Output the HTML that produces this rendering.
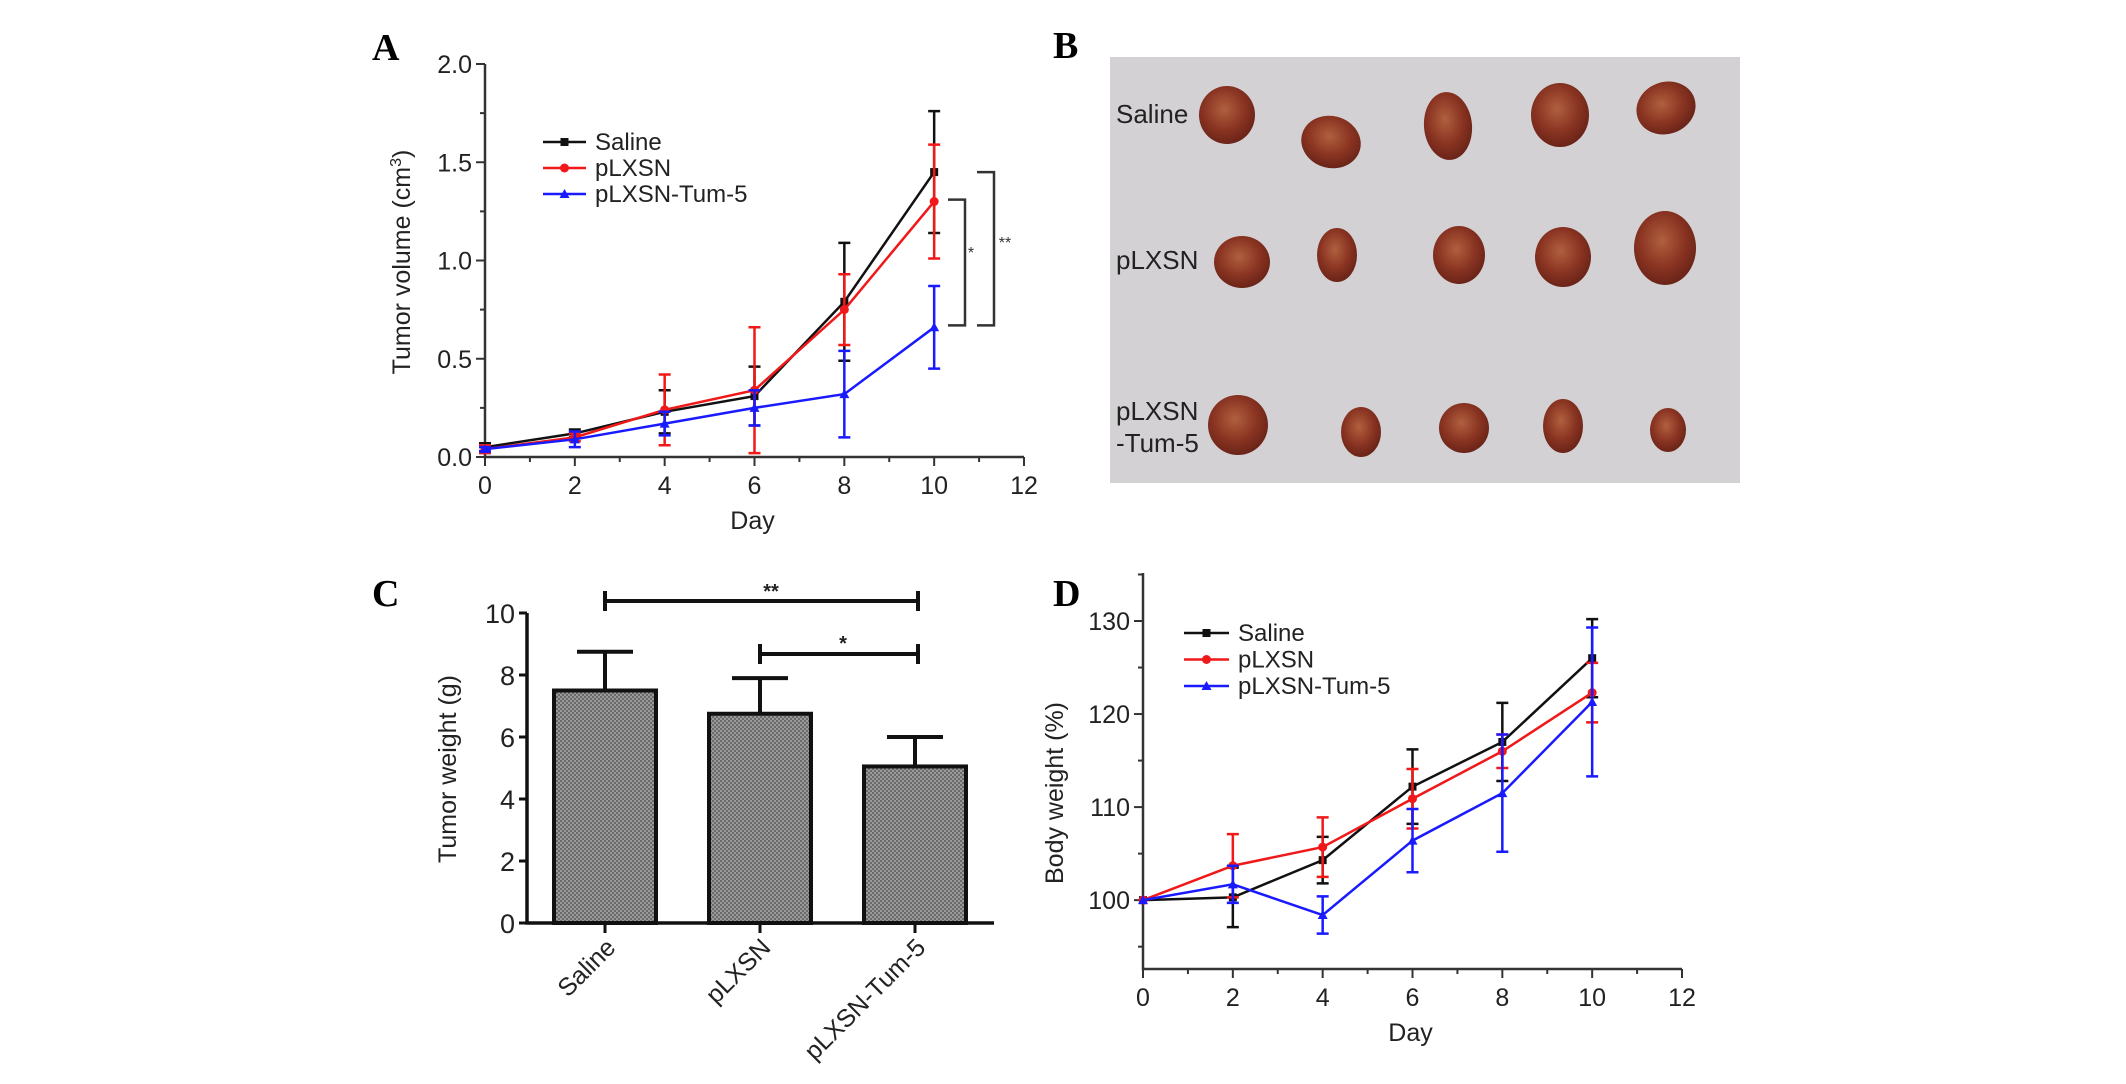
<!DOCTYPE html>
<html><head><meta charset="utf-8">
<style>
html,body{margin:0;padding:0;background:#fff;}
svg{display:block;font-family:"Liberation Sans",Arial,sans-serif;}
.pl{font-family:"Liberation Serif",serif;font-weight:bold;font-size:38px;}
</style></head>
<body>
<svg id="fig" width="2126" height="1084" viewBox="0 0 2126 1084" xmlns="http://www.w3.org/2000/svg">
<defs>
<pattern id="hatch" width="4" height="4" patternUnits="userSpaceOnUse">
<rect width="4" height="4" fill="#9a9a9a"/>
<rect width="2" height="2" fill="#6a6a6a"/><rect x="2" y="2" width="2" height="2" fill="#6a6a6a"/>
</pattern>
<radialGradient id="tum" cx="45%" cy="40%" r="60%">
<stop offset="0" stop-color="#b0603f"/><stop offset="0.6" stop-color="#8a3422"/><stop offset="1" stop-color="#6a2418"/>
</radialGradient>
</defs>
<text class="pl" x="372" y="60">A</text>
<text class="pl" x="1053" y="58">B</text>
<text class="pl" x="372" y="606">C</text>
<text class="pl" x="1053" y="606">D</text>
<g id="gA"></g>
<g id="gB"></g>
<g id="gC"></g>
<g id="gD"></g>
</svg>
<script>
const days = [0, 2, 4, 6, 8, 10];
const aSaline = [0.05, 0.12, 0.23, 0.31, 0.79, 1.45];
const aSalineErr = [0.02, 0.02, 0.11, 0.15, 0.30, 0.31];
const aPLXSN = [0.04, 0.10, 0.24, 0.34, 0.75, 1.30];
const aPLXSNErr = [0.02, 0.02, 0.18, 0.32, 0.18, 0.29];
const aTum = [0.04, 0.09, 0.17, 0.25, 0.32, 0.66];
const aTumErr = [0.01, 0.04, 0.06, 0.09, 0.22, 0.21];
const aYTicks = ["0.0", "0.5", "1.0", "1.5", "2.0"];
const xTicks = ["0", "2", "4", "6", "8", "10", "12"];
const cCategories = ["Saline", "pLXSN", "pLXSN-Tum-5"];
const cValues = [7.5, 6.75, 5.05];
const cErr = [1.25, 1.15, 0.95];
const cYTicks = ["0", "2", "4", "6", "8", "10"];
const dSaline = [100, 100.3, 104.3, 112.2, 117, 126];
const dSalineErr = [0, 3.2, 2.5, 4, 4.2, 4.2];
const dPLXSN = [100, 103.7, 105.7, 110.9, 116, 122.3];
const dPLXSNErr = [0, 3.4, 3.2, 3.2, 1.8, 3.2];
const dTum = [100, 101.7, 98.4, 106.4, 111.5, 121.3];
const dTumErr = [0, 2, 2, 3.4, 6.3, 8];
const dYTicks = ["100", "110", "120", "130"];
const seriesNames = ["Saline", "pLXSN", "pLXSN-Tum-5"];

const NS = "http://www.w3.org/2000/svg";
function mk(parent, tag, attrs, text) {
  const e = document.createElementNS(NS, tag);
  for (const k in attrs) e.setAttribute(k, attrs[k]);
  if (text !== undefined) e.textContent = text;
  parent.appendChild(e);
  return e;
}
const colors = ["#111", "#f01818", "#1a1aff"];

function marker(g, kind, x, y, c) {
  let m;
  if (kind === 0) m = mk(g, "rect", {x: x-4, y: y-4, width: 8, height: 8, fill: c});
  else if (kind === 1) m = mk(g, "circle", {cx: x, cy: y, r: 4.5, fill: c});
  else m = mk(g, "path", {d: `M${x},${y-5}L${x+5},${y+4}L${x-5},${y+4}Z`, fill: c});
  
  
}

function lineChart(g, cfg) {
  const {x0, x1, y0, y1, vmin, vmax, series, errs, yTicks, yTickVals, legend, title, minorY} = cfg;
  const sx = d => x0 + (d / 12) * (x1 - x0);
  const sy = v => y0 - (v - vmin) / (vmax - vmin) * (y0 - y1);
  const ax = mk(g, "path", {d: `M${x0},${cfg.top}V${y0}H${x1}`, stroke: "#333", "stroke-width": 2.5, fill: "none"});
  
  
  for (let i = 0; i <= 12; i++) {
    const x = sx(i);
    mk(g, "line", {x1: x, x2: x, y1: y0, y2: y0 + (i % 2 === 0 ? 9 : 5), stroke: "#333", "stroke-width": 2});
  }
  xTicks.forEach((t, i) => {
    const tl = mk(g, "text", {x: sx(i * 2), y: y0 + 37, "text-anchor": "middle", "font-size": 25, fill: "#222"}, t);
    
    
  });
  yTicks.forEach((t, i) => {
    const y = sy(yTickVals[i]);
    mk(g, "line", {x1: x0 - 9, x2: x0, y1: y, y2: y, stroke: "#333", "stroke-width": 2});
    const tl = mk(g, "text", {x: x0 - 13, y: y + 9, "text-anchor": "end", "font-size": 25, fill: "#222"}, t);
    
    
  });
  minorY.forEach(v => { const y = sy(v); mk(g, "line", {x1: x0 - 5, x2: x0, y1: y, y2: y, stroke: "#333", "stroke-width": 2}); });
  const xt = mk(g, "text", {x: (x0 + x1) / 2 - 2, y: y0 + 72, "text-anchor": "middle", "font-size": 25, fill: "#222"}, "Day");
  
  
  const yt = mk(g, "text", {transform: `translate(${title.x},${title.y}) rotate(-90)`, "text-anchor": "middle", "font-size": 25, fill: "#222"});
  yt.innerHTML = title.html;
  
  
  series.forEach((s, k) => {
    const sg = mk(g, "g", {});
    
    
    const c = colors[k];
    s.forEach((v, i) => {
      const e = errs[k][i];
      if (e > 0) {
        const x = sx(days[i]);
        mk(sg, "path", {d: `M${x},${sy(v + e)}V${sy(v - e)}M${x-6},${sy(v+e)}H${x+6}M${x-6},${sy(v-e)}H${x+6}`, stroke: c, "stroke-width": 2.5, fill: "none"});
      }
    });
    const ln = mk(sg, "polyline", {points: s.map((v, i) => sx(days[i]) + "," + sy(v)).join(" "), stroke: c, "stroke-width": 2.5, fill: "none"});
    
    
    s.forEach((v, i) => marker(sg, k, sx(days[i]), sy(v), c));
  });
  seriesNames.forEach((n, k) => {
    const y = legend.y + k * legend.dy;
    const lg = mk(g, "g", {});
    
    
    mk(lg, "line", {x1: legend.x, x2: legend.x + legend.w, y1: y, y2: y, stroke: colors[k], "stroke-width": 2.5});
    marker(lg, k, legend.x + legend.w / 2, y, colors[k]);
    mk(lg, "text", {x: legend.x + legend.w + 9, y: y + 8, "font-size": 24, fill: "#222"}, n);
  });
  return {sx, sy};
}

// Panel A
const gA = document.getElementById("gA");
const A = lineChart(gA, {x0: 485, x1: 1024, y0: 457, y1: 64, top: 64, vmin: 0, vmax: 2,
  series: [aSaline, aPLXSN, aTum], errs: [aSalineErr, aPLXSNErr, aTumErr],
  yTicks: aYTicks, yTickVals: aYTicks.map(Number), minorY: [0.25, 0.75, 1.25, 1.75],
  legend: {x: 543, y: 142, dy: 26, w: 43},
  title: {x: 410, y: 262, html: 'Tumor volume (cm<tspan dy="-9" font-size="16">3</tspan><tspan dy="9">)</tspan>'}});
const br1 = mk(gA, "path", {d: `M948,${A.sy(1.31)}H965V${A.sy(0.67)}H948`, stroke: "#333", "stroke-width": 2.5, fill: "none"});


const br2 = mk(gA, "path", {d: `M977,${A.sy(1.45)}H994V${A.sy(0.67)}H977`, stroke: "#333", "stroke-width": 2.5, fill: "none"});


mk(gA, "text", {x: 971, y: 258, "font-size": 16, "text-anchor": "middle", fill: "#333"}, "*");
mk(gA, "text", {x: 1005, y: 248, "font-size": 16, "text-anchor": "middle", fill: "#333"}, "**");

// Panel B photo
const gB = document.getElementById("gB");
const bg = mk(gB, "rect", {x: 1110, y: 57, width: 630, height: 426, fill: "#d3d1d3"});


const tumors = [
 [1227,115,28,29,0],[1331,142,30,26,15],[1448,126,24,34,-5],[1560,115,29,32,0],[1666,108,30,26,-20],
 [1242,262,28,26,0],[1337,255,20,27,0],[1459,255,26,29,0],[1563,257,28,30,0],[1665,248,31,37,0],
 [1238,425,30,30,0],[1361,432,20,25,0],[1464,428,25,25,0],[1563,426,20,27,0],[1668,430,18,22,0]];
tumors.forEach(t => {
  const e = mk(gB, "ellipse", {cx: t[0], cy: t[1], rx: t[2], ry: t[3], fill: "url(#tum)", transform: `rotate(${t[4]},${t[0]},${t[1]})`});
  
  
});
[["Saline",1116,123],["pLXSN",1116,269],["pLXSN",1116,420],["-Tum-5",1116,452]].forEach(l => {
  const t = mk(gB, "text", {x: l[1], y: l[2], "font-size": 26, fill: "#222"}, l[0]);
  
  
});

// Panel C bar chart
const gC = document.getElementById("gC");
const cx0 = 527, cx1 = 994, cy0 = 923, cy1 = 613;
const cy = v => cy0 - v / 10 * (cy0 - cy1);
const cxc = i => 605 + i * 155;
const cax = mk(gC, "path", {d: `M${cx0},${cy1}V${cy0}H${cx1}`, stroke: "#111", "stroke-width": 3.5, fill: "none"});


cYTicks.forEach(t => {
  const y = cy(Number(t));
  mk(gC, "line", {x1: cx0 - 8, x2: cx0, y1: y, y2: y, stroke: "#111", "stroke-width": 3});
  const tl = mk(gC, "text", {x: cx0 - 12, y: y + 10, "text-anchor": "end", "font-size": 27, fill: "#222"}, t);
  
  
});
cCategories.forEach((n, i) => {
  const x = cxc(i);
  const bar = mk(gC, "rect", {x: x - 51, y: cy(cValues[i]), width: 102, height: cy0 - cy(cValues[i]), fill: "url(#hatch)", stroke: "#111", "stroke-width": 4});
  
  
  const top = cy(cValues[i] + cErr[i]);
  const eb = mk(gC, "path", {d: `M${x},${cy(cValues[i])}V${top}M${x-28},${top}H${x+28}`, stroke: "#111", "stroke-width": 4, fill: "none"});
  
  
  mk(gC, "line", {x1: x, x2: x, y1: cy0, y2: cy0 + 10, stroke: "#111", "stroke-width": 3});
  const lb = mk(gC, "text", {transform: `translate(${x + 12},${cy0 + 26}) rotate(-45)`, "text-anchor": "end", "font-size": 25, fill: "#222"}, n);
  
  
});
const cyt = mk(gC, "text", {transform: `translate(456,769) rotate(-90)`, "text-anchor": "middle", "font-size": 25, fill: "#222"}, "Tumor weight (g)");


const s1 = mk(gC, "path", {d: `M${cxc(0)},601H${cxc(2)+3}M${cxc(0)},591V611M${cxc(2)+3},591V611`, stroke: "#111", "stroke-width": 4, fill: "none"});


const s2 = mk(gC, "path", {d: `M${cxc(1)},654H${cxc(2)+3}M${cxc(1)},644V664M${cxc(2)+3},644V664`, stroke: "#111", "stroke-width": 4, fill: "none"});


mk(gC, "text", {x: 771, y: 598, "text-anchor": "middle", "font-size": 20, "font-weight": "bold", fill: "#222"}, "**");
mk(gC, "text", {x: 843, y: 650, "text-anchor": "middle", "font-size": 20, "font-weight": "bold", fill: "#222"}, "*");

// Panel D
const gD = document.getElementById("gD");
lineChart(gD, {x0: 1143, x1: 1682, y0: 969, y1: 621, top: 573, vmin: 92.6, vmax: 130,
  series: [dSaline, dPLXSN, dTum], errs: [dSalineErr, dPLXSNErr, dTumErr],
  yTicks: dYTicks, yTickVals: dYTicks.map(Number), minorY: [95, 105, 115, 125, 135],
  legend: {x: 1184, y: 633, dy: 26.5, w: 45},
  title: {x: 1063, y: 793, html: 'Body weight (%)'}});
</script>
</body></html>
